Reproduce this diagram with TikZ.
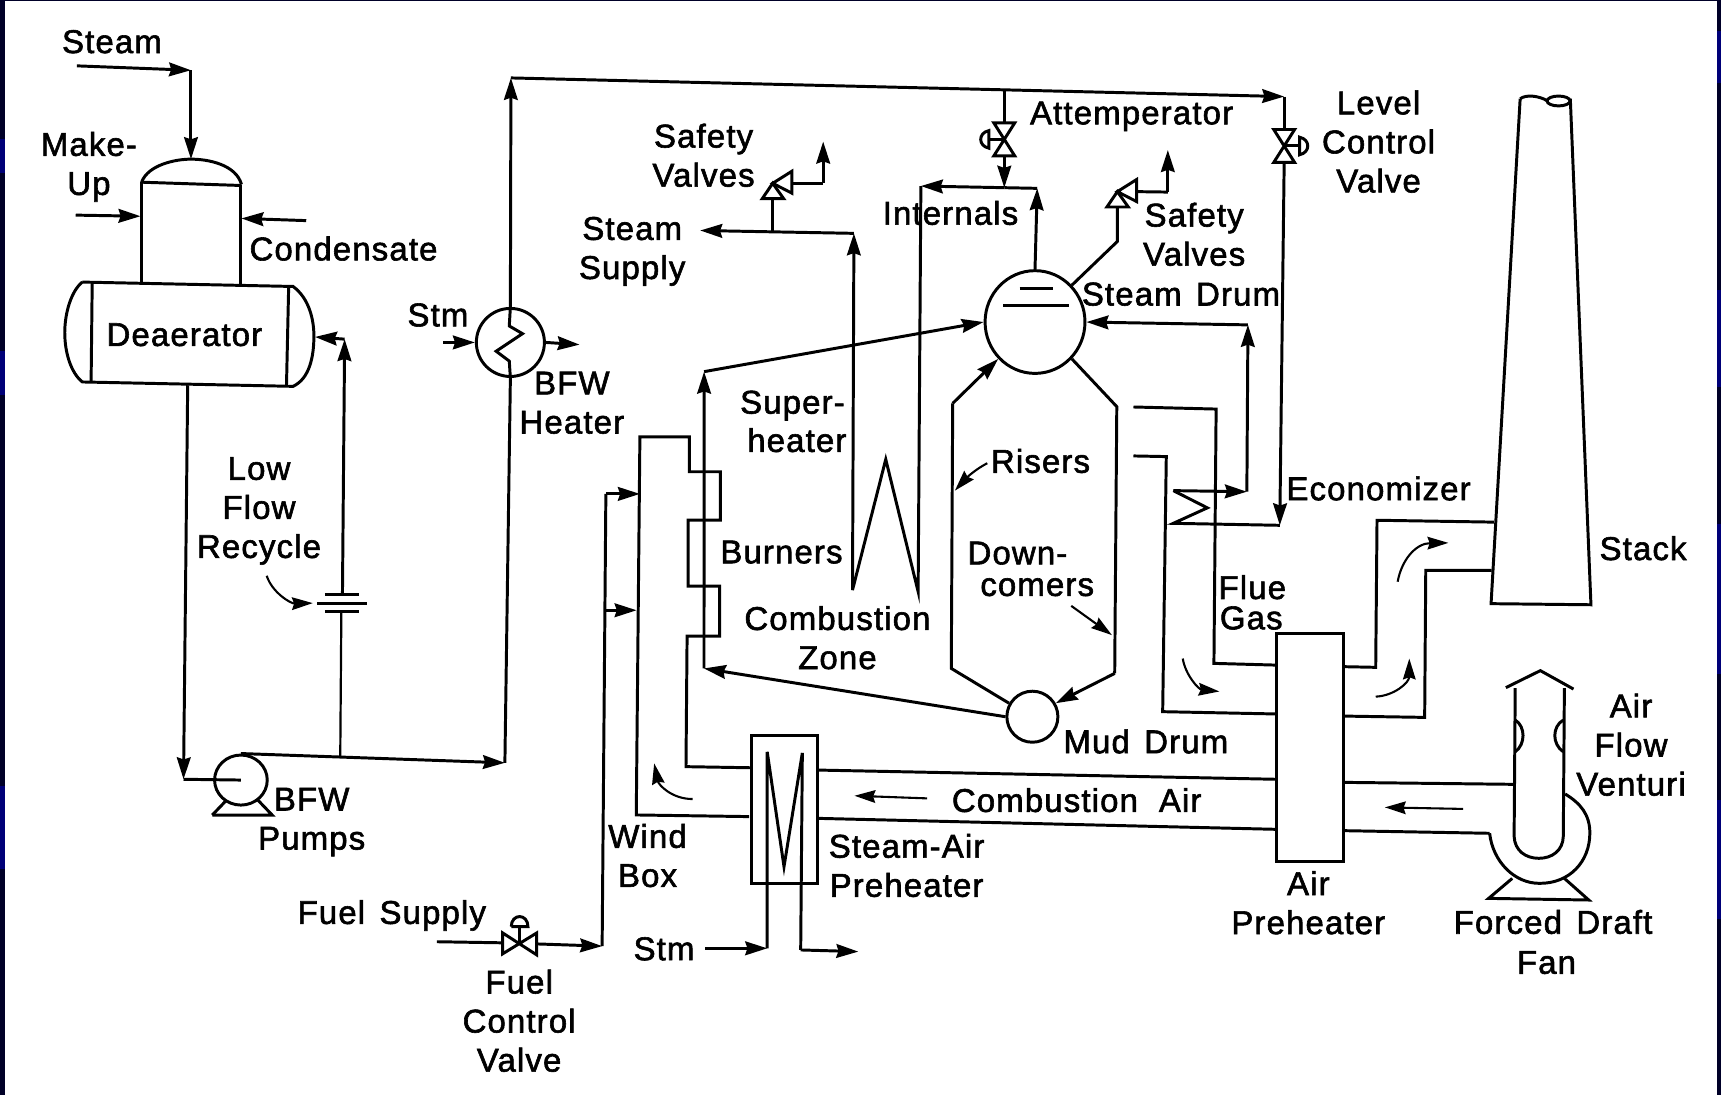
\documentclass[tikz,border=0pt]{standalone}
\usepackage{fontspec}
\setmainfont{Liberation Sans}[LetterSpace=3.5, WordSpace=1.4, FakeBold=1.8]
\usetikzlibrary{calc,arrows.meta,shapes.geometric}
\definecolor{DNavy}{HTML}{000028}
\definecolor{MNavy}{HTML}{000078}
\tikzset{
    pipe/.style={line width=2.7pt, line join=miter},
    thinpipe/.style={line width=2pt},
    flow/.style={pipe, -{Stealth[length=20pt,width=12.5pt,inset=2pt]}},
    flowcurve/.style={line width=1.9pt, -{Stealth[length=19pt,width=11.5pt,inset=2pt]}},
    unit/.style={draw, line width=2.7pt, inner sep=0pt},
    lbl/.style={font=\fontsize{30}{35.6}\selectfont, align=center, inner sep=0pt},
}
\NewDocumentCommand{\DrawValve}{m O{0} O{0} O{1}}{
    \begin{scope}[shift={(#2,#3)}, xscale=#4]
        \draw[pipe] (-9.5,-15) -- (9.5,-15) -- (-9.5,15) -- (9.5,15) -- cycle;
        \draw[pipe] (0,0) -- (14,0);
        \draw[pipe] (14,-8) .. controls (24,-6) and (24,6) .. (14,8) -- cycle;
        \coordinate (#1top) at (0,-15);
        \coordinate (#1bot) at (0,15);
    \end{scope}
}
\NewDocumentCommand{\DrawSafetyValve}{m O{0} O{0}}{
    \begin{scope}[shift={(#2,#3)}]
        \draw[pipe, fill=white] (-9.5,14) -- (10,14) -- (0,0) -- cycle;
        \draw[pipe, fill=white] (17.5,-11) -- (17.5,9) -- (0,0) -- cycle;
        \coordinate (#1in) at (0,14);
        \coordinate (#1out) at (17.5,0);
    \end{scope}
}

\begin{document}
\begin{tikzpicture}[x=1pt, y=-1pt]

    \useasboundingbox (0,0) rectangle (1568,998);
    \fill[DNavy] (0,0) rectangle (1568,998);
    \foreach \a/\b in {127/158,320/360,716/792} {
        \fill[MNavy] (0,\a) rectangle (4.5,\b);
    }
    \foreach \a/\b in {28/76,264/353,477/614,729/837} {
        \fill[MNavy] (1564,\a) rectangle (1568,\b);
    }
    \fill[white] (4.5,1) rectangle (1564,998);

    % deaerator
    \draw[pipe] (129,166) .. controls (135,150) and (160,145) .. (174,145) .. controls (190,145) and (215,150) .. (220,168);
    \draw[pipe] (129,166) -- (220,169);
    \draw[pipe] (129,166) -- (129,257);
    \draw[pipe] (219,169) -- (219,260);
    \draw[pipe] (75,257) -- (267,261) .. controls (282,272) and (286,292) .. (286,306) .. controls (286,325) and (282,345) .. (267,352) -- (75,348) .. controls (65,340) and (59,322) .. (59,303) .. controls (59,285) and (65,265) .. (75,257);
    \draw[pipe] (84,258) -- (83,348);
    \draw[pipe] (263,261) -- (261,352);
    \coordinate (steamin) at (70,60);
    \coordinate (steamcorner) at (174,64);
    \coordinate (deaeratortop) at (174,145);
    \draw[flow] (steamin) -- (steamcorner);
    \draw[flow] (steamcorner) -- (deaeratortop);
    \coordinate (makeupin) at (69,196);
    \coordinate (makeupend) at (128,197);
    \draw[flow] (makeupin) -- (makeupend);
    \coordinate (condensatein) at (279,201);
    \coordinate (condensateend) at (220,199);
    \draw[flow] (condensatein) -- (condensateend);

    % pump and recycle
    \node[unit, ellipse, minimum width=48pt, minimum height=45.6pt] (bfwpump) at (219.5,710.7) {};
    \draw[pipe] (193.4,742.6) -- (248,742.6) -- (235,729);
    \draw[pipe] (193.4,742.6) -- (206.4,729);
    \coordinate (deaeratorout) at (171,351);
    \coordinate (pumpcorner) at (167.2,710);
    \draw[flow] (deaeratorout) -- (pumpcorner);
    \draw[pipe] (pumpcorner) -- (bfwpump.center);
    \coordinate (heatercorner) at (460,695);
    \draw[flow] (bfwpump.north) -- (heatercorner);
    \coordinate (recycletee) at (310,690);
    \coordinate (orificelow) at (311,557);
    \coordinate (orificetop) at (312,542);
    \coordinate (recyclecorner) at (314,309);
    \coordinate (deaeratorback) at (287,307);
    \draw[thinpipe] (recycletee) -- (orificelow);
    \draw[flow] (orificetop) -- (recyclecorner);
    \draw[flow] (recyclecorner) -- (deaeratorback);
    \draw[pipe] (296,542) -- (327,542);
    \draw[pipe] (289,550) -- (334,550);
    \draw[pipe] (296,557) -- (327,557);
    \draw[flowcurve] (243,524.6) .. controls (248,540) and (265,550) .. (285,549.5);

    % bfw heater and top header
    \node[unit, circle, minimum size=62pt] (bfwheater) at (465,312) {};
    \coordinate (topcorner) at (465.5,71);
    \coordinate (rightcorner) at (1170,88);
    \draw[pipe] (heatercorner) -- (bfwheater.south) -- (464,329) -- (452,320) -- (476,304) -- (464,297) -- (bfwheater.north);
    \draw[flow] (bfwheater.north) -- (topcorner);
    \draw[flow] (topcorner) -- (rightcorner);
    \coordinate (stmin) at (404,312);
    \coordinate (stmout) at (528,314);
    \draw[flow] (stmin) -- (bfwheater.west);
    \draw[flow] (bfwheater.east) -- (stmout);

    % steam drum, mud drum
    \node[unit, ellipse, minimum width=91pt, minimum height=93.6pt] (steamdrum) at (943,293.4) {};
    \node[unit, circle, minimum size=46.5pt] (muddrum) at (940.6,653) {};
    \draw[pipe] (929,262.7) -- (959,262.7);
    \draw[pipe] (914,278) -- (974.4,278);
    \coordinate (riserstop) at (868,367.5);
    \coordinate (risersbot) at (866.7,609);
    \coordinate (downtop) at (1017.5,370.5);
    \coordinate (downbot) at (1015.6,613.5);
    \draw[flow] (riserstop) -- (steamdrum.225);
    \draw[pipe] (riserstop) -- (risersbot) -- (muddrum.150);
    \draw[pipe] (steamdrum.-45) -- (downtop) -- (downbot);
    \draw[flow] (downbot) -- (muddrum.30);

    % attemperator, level valve
    \DrawValve{att}[915][127][-1]
    \DrawValve{lev}[1170][133][1]
    \coordinate (atttee) at (915,82);
    \coordinate (intee) at (915,171);
    \coordinate (drumriser) at (945,171.6);
    \coordinate (intcorner) at (839,169.5);
    \draw[pipe] (atttee) -- (atttop);
    \draw[flow] (attbot) -- (intee);
    \draw[flow] (steamdrum.north) -- (drumriser);
    \draw[pipe] (drumriser) -- (intee);
    \draw[flow] (intee) -- (intcorner);
    \draw[pipe] (rightcorner) -- (levtop);

    % superheater
    \coordinate (coilleft) at (776.7,537.6);
    \coordinate (coiltip) at (807,418.5);
    \coordinate (coilright) at (836.5,539);
    \coordinate (suptop) at (778,212.6);
    \coordinate (supply) at (638,210);
    \coordinate (supjoint) at (704,211);
    \draw[pipe] (intcorner) -- (coilright) -- (coiltip) -- (coilleft);
    \draw[flow] (coilleft) -- (suptop);
    \draw[flow] (suptop) -- (supply);
    \DrawSafetyValve{svone}[704][167]
    \draw[pipe] (supjoint) -- (svonein);
    \coordinate (svonebend) at (750,167);
    \coordinate (svonetip) at (750,129);
    \draw[pipe] (svoneout) -- (svonebend);
    \draw[flow] (svonebend) -- (svonetip);
    \DrawSafetyValve{svtwo}[1018][174.6]
    \draw[pipe] (steamdrum.45) -- (1018,220) -- (svtwoin);
    \coordinate (svtwobend) at (1064,175);
    \coordinate (svtwotip) at (1064,136.7);
    \draw[pipe] (svtwoout) -- (svtwobend);
    \draw[flow] (svtwobend) -- (svtwotip);

    % economizer
    \coordinate (ecoin) at (1166,478.6);
    \coordinate (ecolow) at (1069,476.8);
    \coordinate (ecomid) at (1100,462.7);
    \coordinate (ecohigh) at (1069,447);
    \coordinate (ecoout) at (1136,448);
    \coordinate (ecotop) at (1137,296);
    \draw[flow] (levbot) -- (ecoin);
    \draw[pipe] (ecoin) -- (ecolow) -- (ecomid) -- (ecohigh);
    \draw[flow] (ecohigh) -- (ecoout);
    \draw[flow] (ecoout) -- (ecotop);
    \draw[flow] (ecotop) -- (steamdrum.east);

    % wind box
    \coordinate (windbend) at (641.5,338.6);
    \coordinate (windfoot) at (641.4,609);
    \draw[flow] (windfoot) -- (windbend);
    \draw[flow] (windbend) -- (steamdrum.west);
    \draw[flow] (muddrum.west) -- (windfoot);
    \draw[pipe] (682.6,744) -- (579.7,742.5) -- (583,398) -- (628,398) -- (628,429.8) -- (656.4,429.8) -- (656.4,473.8) -- (627,473.8) -- (627,534) -- (655.7,534) -- (655.7,579.5) -- (626,579.5) -- (625,698.5) -- (684,699.5);

    % fuel
    \coordinate (fuelin) at (398,858);
    \coordinate (fuelcorner) at (548.6,862);
    \coordinate (burnerup) at (552,450);
    \coordinate (burnerlow) at (551,556);
    \coordinate (burnerone) at (583,450);
    \coordinate (burnertwo) at (580,556);
    \draw[pipe] (fuelin) -- (458,859);
    \draw[pipe] (458,850) -- (458,869) -- (489,850) -- (489,870) -- cycle;
    \draw[pipe] (473.5,860) -- (473.5,844);
    \draw[pipe] (465.8,844.3) -- (481,844.3) .. controls (481,832) and (465.8,832) .. (465.8,844.3);
    \draw[flow] (489,860) -- (fuelcorner);
    \draw[pipe] (fuelcorner) -- (burnerup);
    \draw[flow] (burnerup) -- (burnerone);
    \draw[flow] (burnerlow) -- (burnertwo);
    \draw[flowcurve] (631,728) .. controls (612,728) and (600,715) .. (596,695.5);

    % steam-air preheater
    \node[unit, rectangle, minimum width=60pt, minimum height=135pt] (steampre) at (715,737.5) {};
    \coordinate (stmleft) at (699,864);
    \coordinate (stmright) at (729.5,865.5);
    \coordinate (stmstart) at (642.4,864);
    \coordinate (stmend) at (782,867);
    \draw[pipe] (stmleft) -- (699,685) -- (714.3,789.6) -- (731,686) -- (stmright);
    \draw[flow] (stmstart) -- (stmleft);
    \draw[flow] (stmright) -- (stmend);

    % air preheater, ducts
    \node[unit, rectangle, minimum width=61pt, minimum height=208pt] (airpre) at (1193.5,681) {};
    \draw[pipe] (745.3,701.6) -- (1163,710);
    \draw[pipe] (745.3,745.6) -- (1163,755.6);
    \draw[pipe] (1223.5,712.8) -- (1379.5,714.6);
    \draw[pipe] (1223.5,756.8) -- (1357.2,759.2);
    \draw[flowcurve] (844.7,727.4) -- (778.5,725);
    \draw[flowcurve] (1333,737) -- (1261.7,735.6);
    \draw[pipe] (1032.7,370.8) -- (1108,372.7) -- (1106,604.4) -- (1163.8,606);
    \draw[pipe] (1032.7,415.4) -- (1062.6,416) -- (1059.3,648.4) -- (1163,650.5);
    \draw[pipe] (1224.2,607.4) -- (1253.4,608) -- (1254.6,474) -- (1361,475.7);
    \draw[pipe] (1223.5,652.4) -- (1298,653.6) -- (1299,519.6) -- (1359,519.6);
    \draw[flowcurve] (1077.6,600) .. controls (1080,615) and (1092,628) .. (1111,630);
    \draw[flowcurve] (1253.4,634.7) .. controls (1270,634) and (1284,622) .. (1284,600);
    \draw[flowcurve] (1273.4,530) .. controls (1277,510) and (1290,495) .. (1319.6,494.6);

    % stack
    \draw[pipe] (1385,90) -- (1358.5,550) -- (1449.5,551) -- (1430.7,90);
    \draw[pipe] (1385,90) .. controls (1390,86) and (1402,87) .. (1410,92);
    \draw[pipe] (1420,92) ellipse (10.5 and 4.5);

    % fan and venturi
    \draw[pipe] (1357.2,759.2) .. controls (1360,785) and (1380,805) .. (1402.7,804.8) .. controls (1430,805) and (1448.5,785) .. (1448.5,759) .. controls (1448.5,742) and (1440,732) .. (1426,723.4);
    \draw[pipe] (1380.5,627) -- (1379.5,762) .. controls (1380,775) and (1390,782) .. (1402,782) .. controls (1414,782) and (1424,775) .. (1424.3,762) -- (1425.3,627);
    \draw[pipe] (1372,626.5) -- (1403.4,611) -- (1433.6,627.8);
    \draw[pipe] (1380.5,656) .. controls (1390,662) and (1390,678) .. (1380.5,685);
    \draw[pipe] (1424.3,656) .. controls (1414,662) and (1414,678) .. (1424.3,685);
    \draw[pipe] (1377.8,800.3) -- (1356.3,818.5) -- (1447.5,820) -- (1425.3,800.3);

    % label arrows
    \draw[flowcurve] (899.5,422) .. controls (888,428) and (880,436) .. (870,447);
    \draw[flowcurve] (976,552) -- (1013,578.6);

    \node[lbl] (lbsteam) at (102,38) {Steam};
    \node[lbl] (lbmakeup) at (81,152) {Make-\\Up};
    \node[lbl] (lbcond) at (313,226.5) {Condensate};
    \node[lbl] (lbdeaer) at (168,305) {Deaerator};
    \node[lbl] (lbstmone) at (399,287) {Stm};
    \node[lbl] (lbheater) at (521,367) {BFW\\Heater};
    \node[lbl] (lbrecycle) at (236,465.5) {Low\\Flow\\Recycle};
    \node[lbl] (lbsvone) at (641,141.5) {Safety\\Valves};
    \node[lbl] (lbsupply) at (576,229) {Steam\\Supply};
    \node[lbl] (lbint) at (866,194) {Internals};
    \node[lbl] (lbatt) at (1031,106) {Attemperator};
    \node[lbl] (lblevel) at (1256,129) {Level\\Control\\Valve};
    \node[lbl] (lbsvtwo) at (1088,213.5) {Safety\\Valves};
    \node[lbl] (lbdrum) at (1076,268) {Steam Drum};
    \node[lbl] (lbsuper) at (722,369.5) {Super-};
    \node[lbl] (lbheat) at (726,401) {heater};
    \node[lbl] (lbrisers) at (948,420) {Risers};
    \node[lbl] (lbburners) at (712,503) {Burners};
    \node[lbl] (lbdown) at (927,504) {Down-};
    \node[lbl] (lbcomers) at (945,535) {comers};
    \node[lbl] (lbzone) at (763,581) {Combustion\\Zone};
    \node[lbl] (lbeco) at (1256,445) {Economizer};
    \node[lbl] (lbstack) at (1497,499.5) {Stack};
    \node[lbl] (lbflue) at (1141,535) {Flue};
    \node[lbl] (lbgas) at (1140,563) {Gas};
    \node[lbl] (lbmud) at (1044,675.5) {Mud Drum};
    \node[lbl] (lbventuri) at (1486,678.5) {Air\\Flow\\Venturi};
    \node[lbl] (lbair) at (981,729) {Combustion\hspace{6pt} Air};
    \node[lbl] (lbpumps) at (284,749) {BFW\\Pumps};
    \node[lbl] (lbwind) at (590,779.5) {Wind\\Box};
    \node[lbl] (lbsteampre) at (826,788.5) {Steam-Air\\Preheater};
    \node[lbl] (lbfuel) at (357,834) {Fuel Supply};
    \node[lbl] (lbstmtwo) at (605,864.5) {Stm};
    \node[lbl] (lbfuelvalve) at (473,930) {Fuel\\Control\\Valve};
    \node[lbl] (lbairpre) at (1192,822.5) {Air\\Preheater};
    \node[lbl] (lbforced) at (1415,840) {Forced Draft};
    \node[lbl] (lbfan) at (1409,877) {Fan};

\end{tikzpicture}
\end{document}
